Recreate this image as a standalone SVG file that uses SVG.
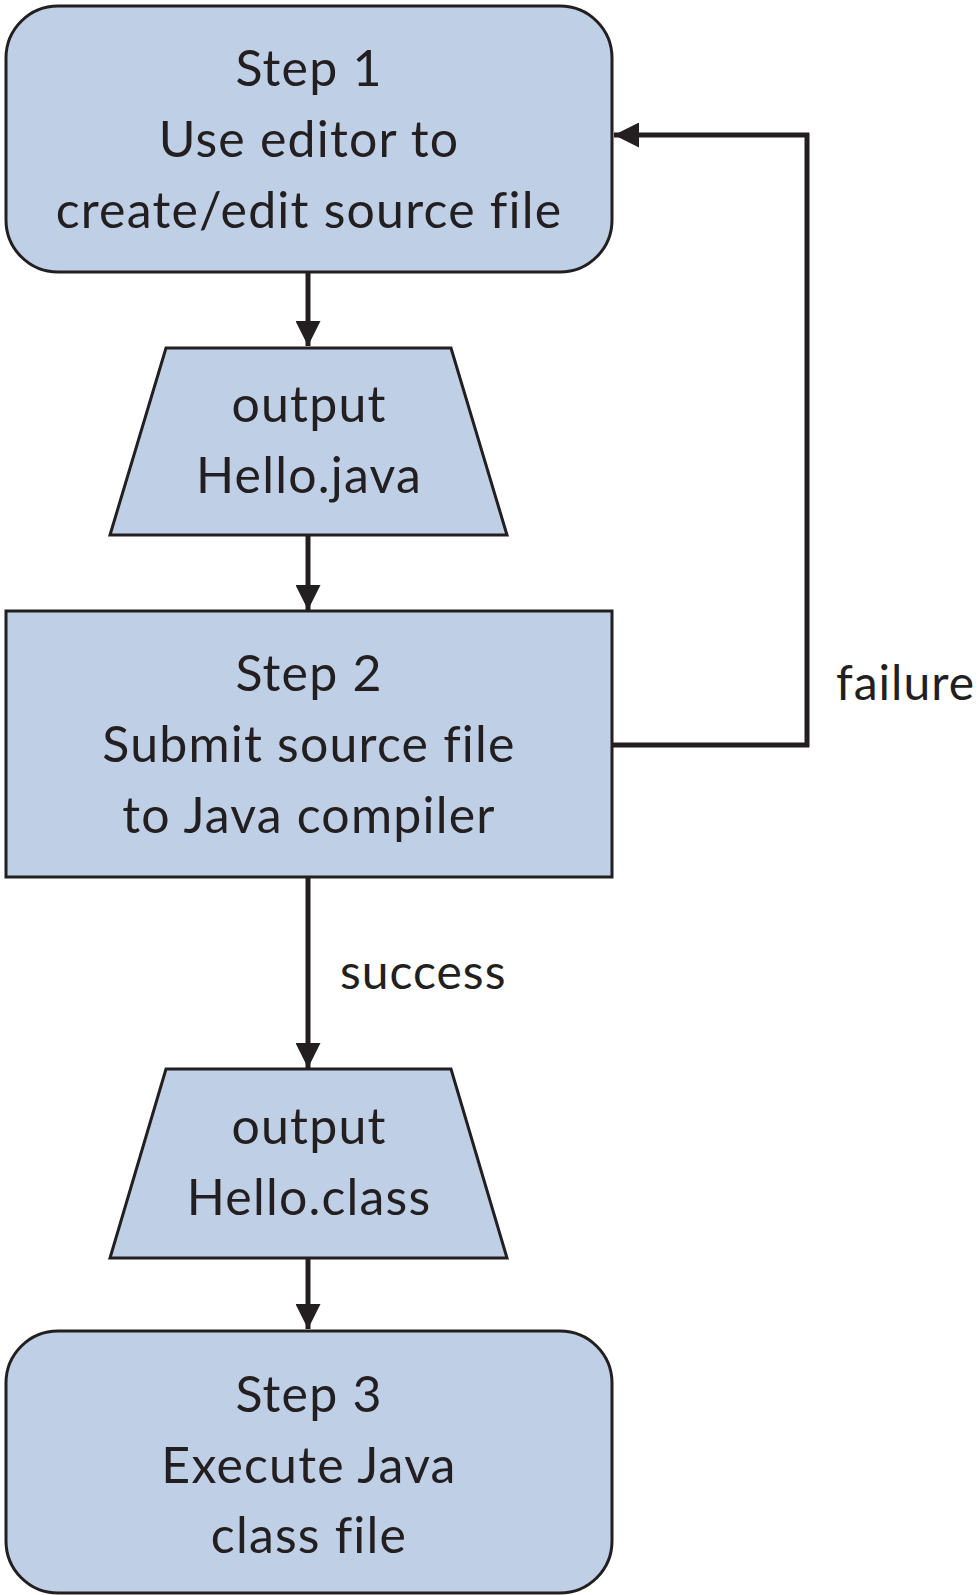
<svg xmlns="http://www.w3.org/2000/svg" width="979" height="1595" viewBox="0 0 979 1595">
<defs>
<style>
.box{fill:#bfcfe5;stroke:#231f20;stroke-width:3}
.t{font-family:Lato,"Liberation Sans",sans-serif;font-size:50px;letter-spacing:1.2px;fill:#231f20;text-anchor:middle}
.lbl{font-family:Lato,"Liberation Sans",sans-serif;font-size:48px;letter-spacing:1px;fill:#231f20}
.c{fill:none;stroke:#231f20;stroke-width:5}
</style>
<marker id="ah" viewBox="0 0 10 10" refX="10" refY="5" markerWidth="5" markerHeight="5" markerUnits="strokeWidth" orient="auto">
<path d="M0,0 L10,5 L0,10 z" fill="#231f20"/>
</marker>
</defs>
<rect width="979" height="1595" fill="#ffffff"/>
<g id="connectors">
<line class="c" x1="308" y1="272" x2="308" y2="346" marker-end="url(#ah)"/>
<line class="c" x1="308" y1="535" x2="308" y2="610" marker-end="url(#ah)"/>
<line class="c" x1="308" y1="877" x2="308" y2="1068" marker-end="url(#ah)"/>
<line class="c" x1="308" y1="1258" x2="308" y2="1329" marker-end="url(#ah)"/>
<polyline class="c" points="613,745 807,745 807,135 614,135" marker-end="url(#ah)"/>
<text class="lbl" x="340" y="989">success</text>
<text class="lbl" x="836" y="700">failure</text>
</g>
<g id="step1">
<rect class="box" x="6" y="6" width="606" height="266" rx="52" ry="52"/>
<text class="t" x="309" y="86">Step 1</text>
<text class="t" x="309" y="157">Use editor to</text>
<text class="t" x="309" y="228">create/edit source file</text>
</g>
<g id="output1">
<polygon class="box" points="166,348 451,348 507,535 110,535"/>
<text class="t" x="309" y="422">output</text>
<text class="t" x="309" y="493">Hello.java</text>
</g>
<g id="step2">
<rect class="box" x="6" y="611" width="606" height="266"/>
<text class="t" x="309" y="691">Step 2</text>
<text class="t" x="309" y="762">Submit source file</text>
<text class="t" x="309" y="833">to Java compiler</text>
</g>
<g id="output2">
<polygon class="box" points="166,1069 451,1069 507,1258 110,1258"/>
<text class="t" x="309" y="1144">output</text>
<text class="t" x="309" y="1215">Hello.class</text>
</g>
<g id="step3">
<rect class="box" x="6" y="1331" width="606" height="262" rx="52" ry="52"/>
<text class="t" x="309" y="1412">Step 3</text>
<text class="t" x="309" y="1483">Execute Java</text>
<text class="t" x="309" y="1553">class file</text>
</g>
</svg>
